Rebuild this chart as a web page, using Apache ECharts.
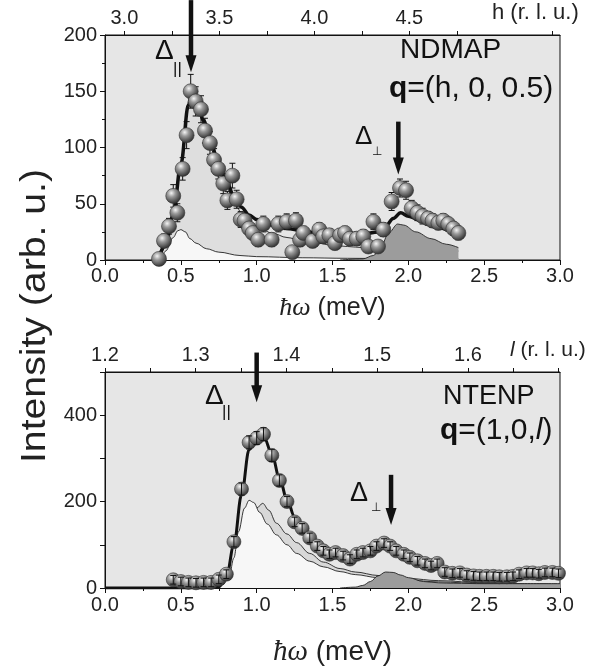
<!DOCTYPE html>
<html><head><meta charset="utf-8">
<script src="https://cdn.jsdelivr.net/npm/echarts@6/dist/echarts.min.js"></script>
<style>html,body{margin:0;padding:0;background:#fff}#c{width:596px;height:668px}</style>
</head><body><div id="c"></div><script>
// ---------- DATA ----------
// Top panel (NDMAP): energy (meV), intensity, error
const topE = [0.356,0.389,0.422,0.450,0.477,0.512,0.538,0.565,0.598,0.633,0.659,0.692,0.719,0.747,0.780,0.807,0.840,0.868,0.895,0.920,0.950,0.974,1.010,1.044,1.099,1.143,1.198,1.235,1.259,1.286,1.308,1.369,1.413,1.439,1.479,1.516,1.550,1.582,1.615,1.660,1.703,1.736,1.770,1.800,1.835,1.890,1.945,1.985,2.022,2.060,2.094,2.130,2.160,2.198,2.230,2.263,2.297,2.330];
const topI = [1,17,30,57,42,81,111,150,141,134,115,104,89,81,68,53,75,54,36,35,28,24,18,32,18,32,34,7,35,18,24,17,27,21,22,15,22,24,19,19,21,12,34,12,27,52,64,62,46,42,39,37,35,33,35,32,28,24];
const topErr = [4,6,7,10,8,10,12,15,13,12,11,10,10,9,9,8,11,8,7,7,6,6,6,7,6,7,7,5,7,6,6,6,6,6,6,5,6,6,6,6,6,5,7,5,6,8,8,8,7,7,7,6,6,6,6,6,6,6];
// Top panel model curves
const topFit = [[0.35,0],[0.40,14],[0.45,40],[0.50,85],[0.55,138],[0.575,150],[0.60,145],[0.65,124],[0.70,103],[0.75,85],[0.80,70],[0.85,57],[0.90,47],[0.95,40],[1.0,36],[1.1,31],[1.2,28],[1.3,26],[1.4,24],[1.5,23],[1.6,23],[1.7,23],[1.8,25],[1.85,30],[1.9,37],[1.95,42],[2.0,39],[2.1,34],[2.2,29],[2.3,25],[2.33,24]];
const topCompPar = [[0.36,0],[0.40,12],[0.45,37],[0.50,82],[0.55,135],[0.58,146],[0.62,138],[0.65,120],[0.70,98],[0.75,80],[0.80,65],[0.85,52],[0.90,42],[0.95,35],[1.0,30],[1.1,24],[1.2,20],[1.3,17],[1.4,15],[1.5,13],[1.6,12],[1.7,11],[1.8,10],[2.0,9],[2.2,8],[2.33,8]];
const topCompLow = [[0.37,0],[0.40,8],[0.45,20],[0.48,26],[0.50,27],[0.53,25],[0.56,19],[0.60,15],[0.67,10],[0.75,7],[0.89,4],[1.0,3],[1.3,2],[1.6,1.5],[2.0,1],[2.33,1]];
const topCompPerp = [[1.55,0],[1.70,1],[1.77,4],[1.82,12],[1.87,24],[1.93,32],[1.97,31],[2.05,25],[2.15,19],[2.25,14],[2.33,11]];
const topArrows = [[0.567,231,167],[1.934,123,76]];
const hTicks = [3.0,3.25,3.5,3.75,4.0,4.25,4.5,4.75,5.25];
const hLabels = [3.0,3.5,4.0,4.5];

// Bottom panel (NTENP)
const botE = [0.45,0.50,0.55,0.60,0.65,0.70,0.75,0.80,0.85,0.90,0.95,1.00,1.045,1.10,1.15,1.20,1.25,1.30,1.35,1.40,1.44,1.48,1.52,1.57,1.615,1.66,1.70,1.75,1.79,1.84,1.88,1.92,1.97,2.01,2.06,2.11,2.15,2.19,2.24,2.29,2.34,2.385,2.43,2.47,2.515,2.56,2.60,2.65,2.69,2.73,2.78,2.82,2.86,2.90,2.95,2.99];
const botI = [19,15,13,12,13,13,20,32,107,229,337,347,356,307,249,200,153,138,116,97,86,78,82,75,67,78,82,86,97,104,97,86,78,71,63,57,52,57,37,34,35,30,28,27,27,27,26,26,27,32,35,35,33,36,36,34];
const botErr = [10,10,10,10,10,10,10,10,12,14,15,15,15,14,13,12,11,11,11,10,10,10,10,10,10,10,10,10,10,10,10,10,10,10,10,10,10,10,10,10,10,10,10,10,10,10,10,10,10,10,10,10,10,10,10,10];
const botFit = [[0,0],[0.7,0],[0.75,3],[0.8,25],[0.85,100],[0.9,215],[0.95,320],[1.0,352],[1.05,348],[1.1,310],[1.15,255],[1.2,205],[1.25,165],[1.3,137],[1.35,117],[1.4,101],[1.45,90],[1.5,83],[1.6,78],[1.7,80],[1.8,90],[1.85,95],[1.9,92],[1.95,85],[2.0,76],[2.1,62],[2.2,50],[2.3,40],[2.4,34],[2.5,30],[2.6,29],[2.8,29],[3.0,29]];
const botCompA = [[0.72,0],[0.78,8],[0.82,30],[0.85,70],[0.88,130],[0.92,185],[0.95,203],[0.98,198],[1.02,175],[1.07,148],[1.13,123],[1.2,100],[1.264,80],[1.35,62],[1.44,49],[1.55,38],[1.65,31],[1.8,24],[2.0,18],[2.2,14],[2.5,10],[2.75,8],[3.0,7]];
const botCompB = [[0.80,0],[0.85,15],[0.9,55],[0.95,130],[1.0,185],[1.04,196],[1.08,180],[1.13,150],[1.2,125],[1.264,105],[1.35,80],[1.44,60],[1.55,45],[1.65,37],[1.8,29],[2.0,22],[2.2,17],[2.5,12],[2.75,10],[3.0,9]];
const botCompPerp = [[1.55,0],[1.65,2],[1.70,6],[1.75,15],[1.80,28],[1.85,37],[1.90,36],[1.95,30],[2.0,24],[2.1,15],[2.2,12],[2.3,11],[2.5,10],[2.75,10],[3.0,10]];
const botArrows = [[1.0,545,430],[1.886,262,146]];
const lTicks = [1.2,1.25,1.3,1.35,1.4,1.45,1.5,1.55,1.6,1.65,1.7];
const lLabels = [1.2,1.3,1.4,1.5,1.6];

// ---------- CHART ----------
const FONT = '"Liberation Sans", Arial, sans-serif';
const SERIF = '"Liberation Serif", "DejaVu Serif", serif';
const ink = '#111';
const chart = echarts.init(document.getElementById('c'), null, {renderer:'canvas'});

const ballColor = {type:'radial', x:0.38, y:0.32, r:0.72, colorStops:[
  {offset:0, color:'#f4f4f4'},{offset:0.35, color:'#9a9a9a'},{offset:0.8, color:'#4a4a4a'},{offset:1, color:'#2a2a2a'}]};

function axisBase(){
  return {
    axisLine:{show:true, onZero:false, lineStyle:{color:ink, width:1}},
    axisTick:{show:true, length:5, lineStyle:{color:ink, width:1}},
    axisLabel:{fontFamily:FONT, fontSize:20, color:'#222'},
    splitLine:{show:false}
  };
}
function mk(o){ return Object.assign(axisBase(), o, {
  axisLabel:Object.assign(axisBase().axisLabel, o.axisLabel||{}),
  axisTick:Object.assign(axisBase().axisTick, o.axisTick||{})
});}

function errRender(params, api){
  const x = api.value(0), y = api.value(1), e = api.value(2);
  const lo = api.coord([x, y - e]), hi = api.coord([x, y + e]);
  const c = 3;
  return {type:'group', children:[
    {type:'line', shape:{x1:lo[0], y1:lo[1], x2:hi[0], y2:hi[1]}, style:{stroke:ink, lineWidth:1}},
    {type:'line', shape:{x1:lo[0]-c, y1:lo[1], x2:lo[0]+c, y2:lo[1]}, style:{stroke:ink, lineWidth:1}},
    {type:'line', shape:{x1:hi[0]-c, y1:hi[1], x2:hi[0]+c, y2:hi[1]}, style:{stroke:ink, lineWidth:1}}
  ]};
}
function arrowRender(params, api){
  const x = api.value(0);
  const p1 = api.coord([x, api.value(1)]), p2 = api.coord([x, api.value(2)]);
  const hl = 17, hw = 5.5;
  return {type:'group', children:[
    {type:'line', shape:{x1:p1[0], y1:p1[1], x2:p2[0], y2:p2[1]-hl+2}, style:{stroke:ink, lineWidth:4.5}},
    {type:'polygon', shape:{points:[[p2[0]-hw, p2[1]-hl],[p2[0]+hw, p2[1]-hl],[p2[0], p2[1]]]}, style:{fill:ink}}
  ]};
}

function area(data, xi, fill, z){
  return {type:'line', xAxisIndex:xi, yAxisIndex:xi/2, data:data, smooth:0.35, smoothMonotone:'x',
    symbol:'none', z:z, silent:true,
    lineStyle:{color:'#222', width:0.9}, areaStyle:{color:fill, opacity:1}};
}

const topPts = topE.map((e,i)=>[e, topI[i], topErr[i]]);
const botPts = botE.map((e,i)=>[e, botI[i], botErr[i]]);

const option = {
  animation:false,
  backgroundColor:'#fff',
  grid:[
    {left:105, top:35, width:455, height:225, show:true, backgroundColor:'#e6e6e6', borderColor:ink, borderWidth:1},
    {left:105, top:372, width:455, height:223, show:true, backgroundColor:'#e6e6e6', borderColor:ink, borderWidth:1}
  ],
  xAxis:[
    mk({gridIndex:0, type:'value', position:'bottom', min:0, max:3, interval:0.5,
      minorTick:{show:true, splitNumber:2, length:3, lineStyle:{color:ink}},
      axisLabel:{margin:6, formatter:v=>v.toFixed(1)},
      name:'{i|ħω} (meV)', nameLocation:'middle', nameGap:35,
      nameTextStyle:{fontFamily:FONT, fontSize:25, color:'#222', rich:{i:{fontFamily:SERIF, fontStyle:'italic', fontSize:26, color:'#222'}}}}),
    mk({gridIndex:0, type:'value', position:'top', min:2.898, max:5.293,
      axisTick:{customValues:hTicks, length:4},
      axisLabel:{customValues:hLabels, margin:7, formatter:v=>v.toFixed(1)}}),
    mk({gridIndex:1, type:'value', position:'bottom', min:0, max:3, interval:0.5,
      minorTick:{show:true, splitNumber:2, length:3, lineStyle:{color:ink}},
      axisLabel:{margin:7, formatter:v=>v.toFixed(1)},
      name:'{i|ħω} (meV)', nameLocation:'middle', nameGap:50,
      nameTextStyle:{fontFamily:FONT, fontSize:28, color:'#222', rich:{i:{fontFamily:SERIF, fontStyle:'italic', fontSize:29, color:'#222'}}}}),
    mk({gridIndex:1, type:'value', position:'top', min:1.2, max:1.7014,
      axisTick:{customValues:lTicks, length:4},
      axisLabel:{customValues:lLabels, margin:7, formatter:v=>v.toFixed(1)}})
  ],
  yAxis:[
    mk({gridIndex:0, type:'value', min:0, max:200, interval:50,
      minorTick:{show:true, splitNumber:2, length:3, lineStyle:{color:ink}},
      axisLabel:{margin:8}}),
    mk({gridIndex:1, type:'value', min:0, max:500, interval:100,
      axisLabel:{margin:8, formatter:v=> (v%200===0 ? String(v) : '')}})
  ],
  series:[
    // top panel
    area(topCompPar, 0, '#dedede', 1),
    area(topCompLow, 0, '#f7f7f7', 2),
    area(topCompPerp, 0, '#9c9c9c', 3),
    {type:'line', xAxisIndex:0, yAxisIndex:0, data:topFit, smooth:0.35, smoothMonotone:'x', symbol:'none', z:4, silent:true,
      lineStyle:{color:ink, width:3.5}},
    {type:'custom', xAxisIndex:0, yAxisIndex:0, data:topPts, renderItem:errRender, z:5, silent:true, encode:{x:0, y:1}},
    {type:'scatter', xAxisIndex:0, yAxisIndex:0, data:topPts, symbolSize:15, z:6, silent:true,
      itemStyle:{color:ballColor, borderColor:'#333', borderWidth:0.6, opacity:1}},
    {type:'custom', xAxisIndex:0, yAxisIndex:0, data:topArrows, renderItem:arrowRender, clip:false, z:7, silent:true, encode:{x:0, y:2}},
    // bottom panel
    area(botCompB, 2, '#d8d8d8', 1),
    area(botCompA, 2, '#f7f7f7', 2),
    area(botCompPerp, 2, '#9c9c9c', 3),
    {type:'line', xAxisIndex:2, yAxisIndex:1, data:botFit, smooth:0.35, smoothMonotone:'x', symbol:'none', z:4, silent:true,
      lineStyle:{color:ink, width:3}},
    {type:'scatter', xAxisIndex:2, yAxisIndex:1, data:botPts, symbolSize:14, z:5, silent:true,
      itemStyle:{color:ballColor, borderColor:'#333', borderWidth:0.6, opacity:1}},
    {type:'custom', xAxisIndex:2, yAxisIndex:1, data:botPts, renderItem:errRender, z:6, silent:true, encode:{x:0, y:1}},
    {type:'custom', xAxisIndex:2, yAxisIndex:1, data:botArrows, renderItem:arrowRender, clip:false, z:7, silent:true, encode:{x:0, y:2}}
  ],
  graphic:[
    {type:'text', x:35, y:316, rotation:Math.PI/2, scaleX:1.12, style:{text:'Intensity (arb. u.)', fontFamily:FONT, fontSize:35, fill:'#222', align:'center', verticalAlign:'middle'}},
    {type:'text', x:492, y:2, style:{text:'h (r. l. u.)', fontFamily:FONT, fontSize:22, fill:'#222'}},
    {type:'text', x:510, y:340, style:{text:'{i|l} (r. l. u.)', fontFamily:FONT, fontSize:21, fill:'#222', rich:{i:{fontFamily:FONT, fontStyle:'italic', fontSize:21, fill:'#222'}}}},
    {type:'text', x:400, y:36, style:{text:'NDMAP', fontFamily:FONT, fontSize:28, fill:ink}},
    {type:'text', x:389, y:74, style:{text:'{b|q}=(h, 0, 0.5)', fontFamily:FONT, fontSize:30, fill:ink, rich:{b:{fontFamily:FONT, fontWeight:'bold', fontSize:30, fill:ink}}}},
    {type:'text', x:443, y:383, style:{text:'NTENP', fontFamily:FONT, fontSize:27, fill:ink}},
    {type:'text', x:440, y:416, style:{text:'{b|q}=(1,0,{i|l})', fontFamily:FONT, fontSize:30, fill:ink, rich:{b:{fontFamily:FONT, fontWeight:'bold', fontSize:30, fill:ink}, i:{fontFamily:FONT, fontStyle:'italic', fontSize:30, fill:ink}}}},
    // Delta labels
    {type:'text', x:155, y:37, style:{text:'Δ', fontFamily:FONT, fontSize:28, fill:ink}},
    {type:'text', x:173, y:61, style:{text:'||', fontFamily:FONT, fontSize:17, fill:ink}},
    {type:'text', x:355, y:124, style:{text:'Δ', fontFamily:FONT, fontSize:26, fill:ink}},
    {type:'text', x:372, y:146, style:{text:'⊥', fontFamily:'"DejaVu Sans", sans-serif', fontSize:12, fill:ink}},
    {type:'text', x:205, y:382, style:{text:'Δ', fontFamily:FONT, fontSize:28, fill:ink}},
    {type:'text', x:222, y:404, style:{text:'||', fontFamily:FONT, fontSize:17, fill:ink}},
    {type:'text', x:350, y:480, style:{text:'Δ', fontFamily:FONT, fontSize:27, fill:ink}},
    {type:'text', x:371, y:502, style:{text:'⊥', fontFamily:'"DejaVu Sans", sans-serif', fontSize:12, fill:ink}}
  ]
};
chart.setOption(option);
</script></body></html>
